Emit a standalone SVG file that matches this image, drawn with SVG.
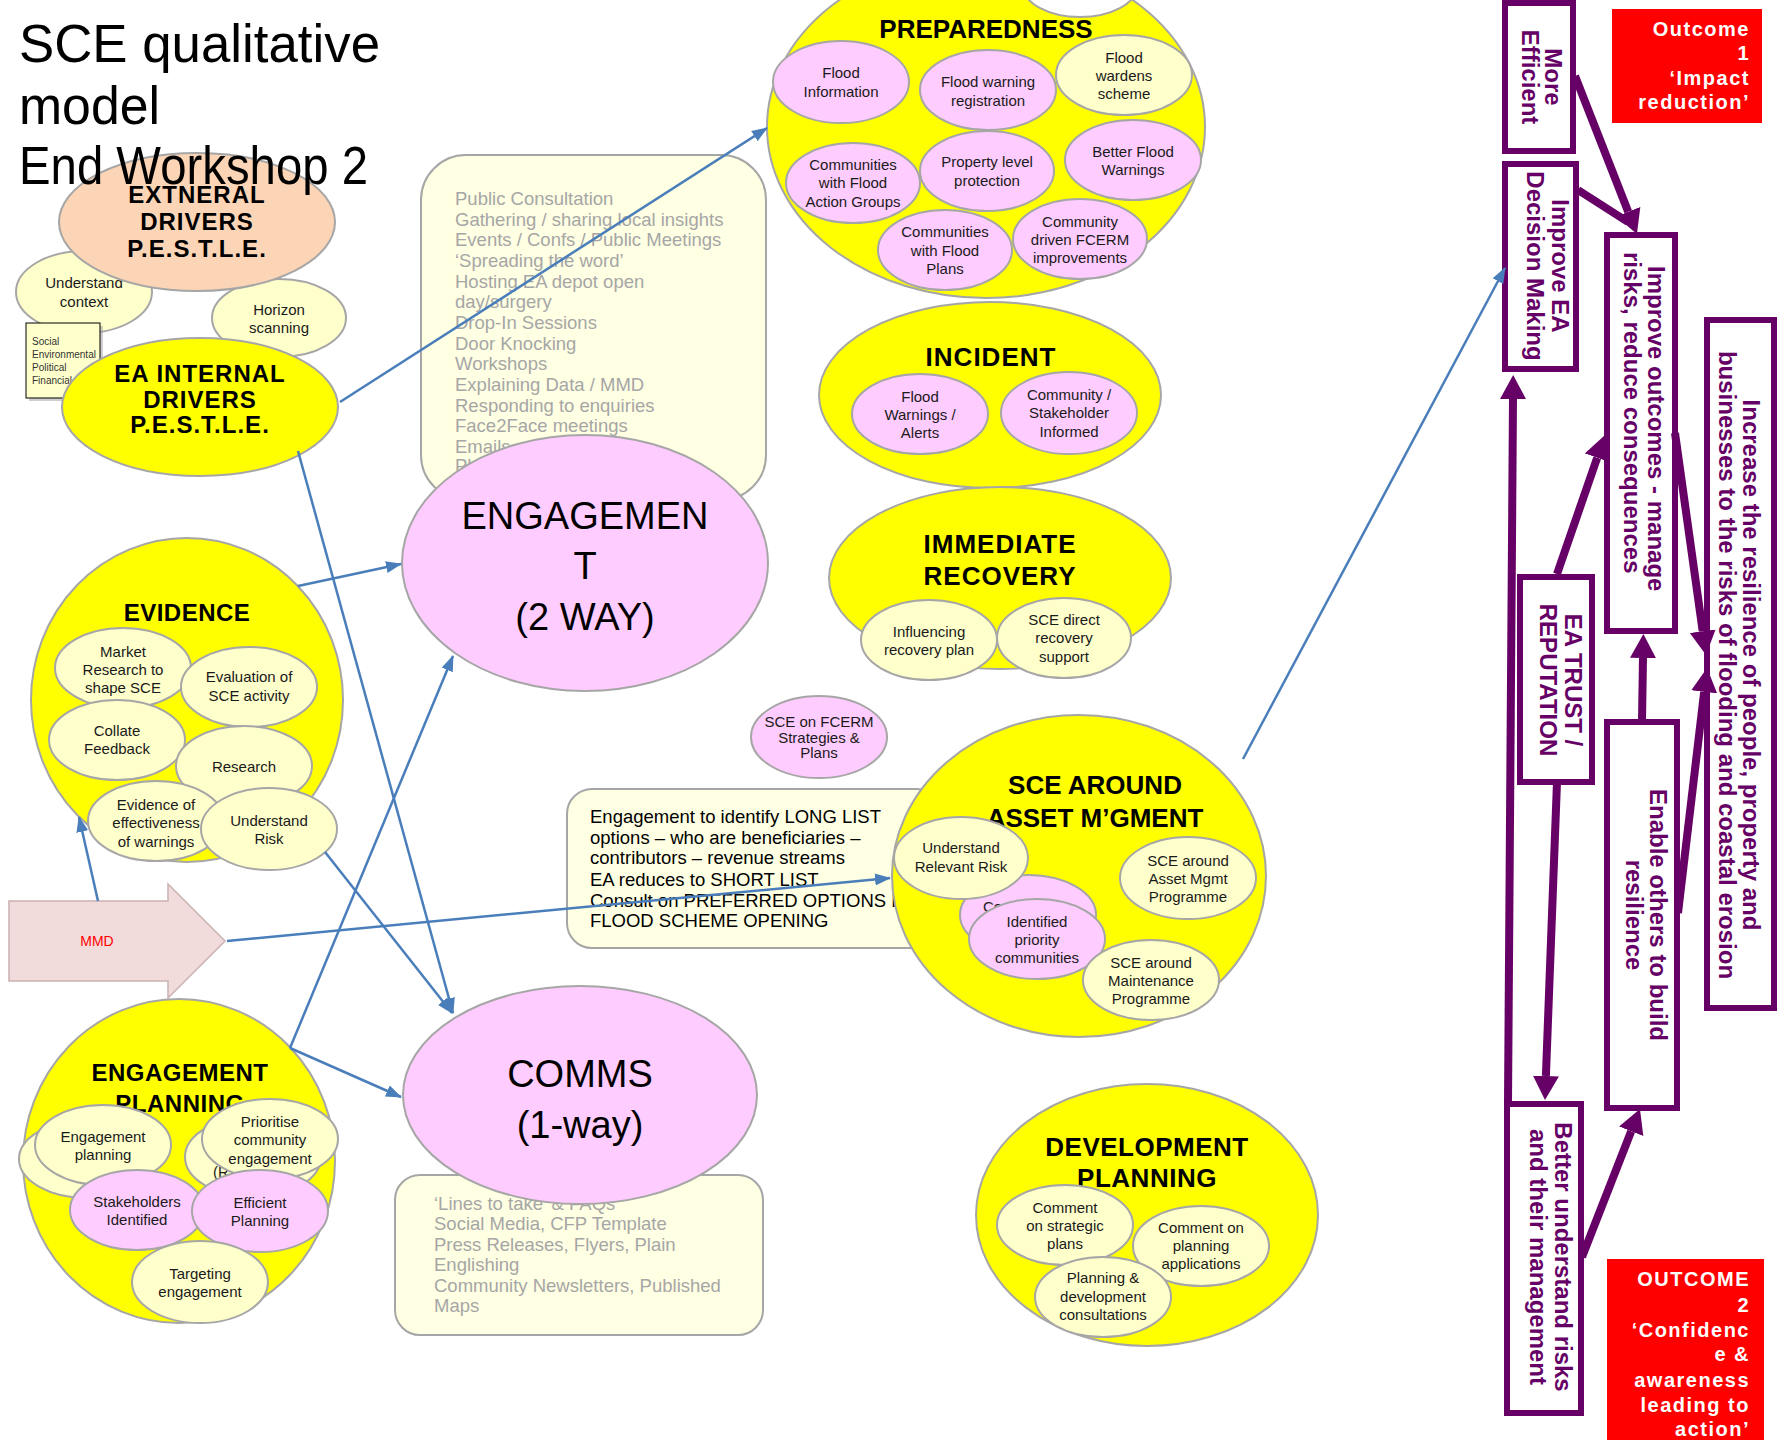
<svg xmlns="http://www.w3.org/2000/svg" width="1777" height="1440" viewBox="0 0 1777 1440">
<style>
.bg{fill:#FFFFFF}
.y{fill:#FFFF00;stroke:#A6A6A6;stroke-width:2}
.pk{fill:#FFCCFF;stroke:#A6A6A6;stroke-width:2}
.ly{fill:#FFFFCC;stroke:#A6A6A6;stroke-width:2}
.wh{fill:#FFFFFF;stroke:#A6A6A6;stroke-width:2}
.box{fill:#FFFFE3;stroke:#A6A6A6;stroke-width:2}
.t{font-family:"Liberation Sans",Arial,sans-serif;font-size:15px;fill:#1a1a1a;text-anchor:middle}
.hd{font-family:"Liberation Sans",Arial,sans-serif;font-weight:bold;fill:#000;text-anchor:middle}
.gt{font-family:"Liberation Sans",Arial,sans-serif;font-size:18.5px;fill:#A6A6A6}
.big{font-family:"Liberation Sans",Arial,sans-serif;font-size:38px;fill:#000;text-anchor:middle}
.conn{stroke:#4A7EBB;stroke-width:2.5;fill:none;marker-end:url(#ab)}
.pa{stroke:#660066;stroke-width:8;fill:none;marker-end:url(#ap)}
.pl{stroke:#660066;stroke-width:8;fill:none}
.pb{fill:#FFFFFF;stroke:#660066;stroke-width:6}
.pt{font-family:"Liberation Sans",Arial,sans-serif;font-weight:bold;font-size:24px;fill:#660066;text-anchor:middle}
.red{fill:#FF0000}
.ot{font-family:"Liberation Sans",Arial,sans-serif;font-weight:bold;font-size:20px;fill:#FFFFFF;text-anchor:end;letter-spacing:1.5px}
</style>
<defs>
<marker id="ab" markerUnits="userSpaceOnUse" markerWidth="18" markerHeight="14" refX="15" refY="6" orient="auto">
<path d="M0,0 L16,6 L0,12 z" fill="#4A7EBB"/>
</marker>
<marker id="ap" markerUnits="userSpaceOnUse" markerWidth="26" markerHeight="28" refX="0" refY="13" orient="auto">
<path d="M0,0 L24,13 L0,26 z" fill="#660066"/>
</marker>
</defs>
<rect class="bg" x="0" y="0" width="1777" height="1440"/>

<!-- External / internal drivers -->
<g id="understand-context">
<ellipse class="ly" cx="84" cy="292" rx="68" ry="41"/>
<text class="t"><tspan x="84" y="288">Understand</tspan><tspan x="84" y="307">context</tspan></text>
</g>
<g id="pestle-box">
<rect x="29" y="326" width="74" height="75" fill="#A0A0A0" opacity="0.5"/>
<rect x="26" y="323" width="74" height="75" fill="#FFFFCC" stroke="#000" stroke-width="1"/>
<text font-family="'Liberation Sans',Arial,sans-serif" font-size="10" fill="#333"><tspan x="32" y="345">Social</tspan><tspan x="32" y="358">Environmental</tspan><tspan x="32" y="371">Political</tspan><tspan x="32" y="384">Financial</tspan></text>
</g>
<g id="horizon-scanning">
<ellipse class="ly" cx="279" cy="318" rx="67" ry="39"/>
<text class="t"><tspan x="279" y="315">Horizon</tspan><tspan x="279" y="333">scanning</tspan></text>
</g>
<g id="external-drivers">
<ellipse cx="197" cy="222" rx="138" ry="69" fill="#FBD5B5" stroke="#A6A6A6" stroke-width="2"/>
<text class="hd" font-size="24" letter-spacing="1"><tspan x="197" y="203">EXTNERAL</tspan><tspan x="197" y="230">DRIVERS</tspan><tspan x="197" y="257">P.E.S.T.L.E.</tspan></text>
</g>
<g id="ea-internal-drivers">
<ellipse class="y" cx="200" cy="407" rx="138" ry="69"/>
<text class="hd" font-size="24" letter-spacing="1"><tspan x="200" y="382">EA INTERNAL</tspan><tspan x="200" y="408">DRIVERS</tspan><tspan x="200" y="433">P.E.S.T.L.E.</tspan></text>
</g>
<g id="title" font-family="'Liberation Sans',Arial,sans-serif" font-size="53" fill="#000">
<text x="19" y="62" textLength="361" lengthAdjust="spacingAndGlyphs">SCE qualitative</text>
<text x="19" y="124" textLength="141" lengthAdjust="spacingAndGlyphs">model</text>
<text x="19" y="184" textLength="349" lengthAdjust="spacingAndGlyphs">End Workshop 2</text>
</g>

<!-- Engagement -->
<g id="engagement-list">
<rect class="box" x="421" y="155" width="345" height="345" rx="45"/>
<text class="gt"><tspan x="455" y="205">Public Consultation</tspan><tspan x="455" y="226">Gathering / sharing local insights</tspan><tspan x="455" y="246">Events / Confs / Public Meetings</tspan><tspan x="455" y="267">‘Spreading the word’</tspan><tspan x="455" y="288">Hosting EA depot open</tspan><tspan x="455" y="308">day/surgery</tspan><tspan x="455" y="329">Drop-In Sessions</tspan><tspan x="455" y="350">Door Knocking</tspan><tspan x="455" y="370">Workshops</tspan><tspan x="455" y="391">Explaining Data / MMD</tspan><tspan x="455" y="412">Responding to enquiries</tspan><tspan x="455" y="432">Face2Face meetings</tspan><tspan x="455" y="453">Emails</tspan><tspan x="455" y="472">Ph</tspan></text>
</g>
<g id="engagement">
<ellipse class="pk" cx="585" cy="563" rx="183" ry="128"/>
<text class="big"><tspan x="585" y="529">ENGAGEMEN</tspan><tspan x="585" y="579">T</tspan><tspan x="585" y="630">(2 WAY)</tspan></text>
</g>
<g id="comms-list">
<rect class="box" x="395" y="1175" width="368" height="160" rx="25"/>
<text class="gt"><tspan x="434" y="1210">‘Lines to take’ &amp; FAQs</tspan><tspan x="434" y="1230">Social Media,  CFP Template</tspan><tspan x="434" y="1251">Press Releases, Flyers, Plain</tspan><tspan x="434" y="1271">Englishing</tspan><tspan x="434" y="1292">Community Newsletters, Published</tspan><tspan x="434" y="1312">Maps</tspan></text>
</g>
<g id="comms">
<ellipse class="pk" cx="580" cy="1095" rx="177" ry="109"/>
<text class="big"><tspan x="580" y="1087">COMMS</tspan><tspan x="580" y="1138">(1-way)</tspan></text>
</g>

<!-- Preparedness -->
<g id="preparedness">
<ellipse class="y" cx="986" cy="127" rx="219" ry="171"/>
<ellipse class="wh" cx="1080" cy="-14" rx="57" ry="31"/>
<text class="hd" font-size="26" x="986" y="38">PREPAREDNESS</text>
<ellipse class="pk" cx="841" cy="82" rx="68" ry="41"/>
<text class="t"><tspan x="841" y="78">Flood</tspan><tspan x="841" y="97">Information</tspan></text>
<ellipse class="pk" cx="988" cy="90" rx="68" ry="40"/>
<text class="t"><tspan x="988" y="87">Flood warning</tspan><tspan x="988" y="106">registration</tspan></text>
<ellipse class="ly" cx="1124" cy="75" rx="68" ry="40"/>
<text class="t"><tspan x="1124" y="63">Flood</tspan><tspan x="1124" y="81">wardens</tspan><tspan x="1124" y="99">scheme</tspan></text>
<ellipse class="pk" cx="853" cy="183" rx="67" ry="40"/>
<text class="t"><tspan x="853" y="170">Communities</tspan><tspan x="853" y="188">with Flood</tspan><tspan x="853" y="207">Action Groups</tspan></text>
<ellipse class="pk" cx="987" cy="171" rx="67" ry="40"/>
<text class="t"><tspan x="987" y="167">Property level</tspan><tspan x="987" y="186">protection</tspan></text>
<ellipse class="pk" cx="1133" cy="160" rx="68" ry="40"/>
<text class="t"><tspan x="1133" y="157">Better Flood</tspan><tspan x="1133" y="175">Warnings</tspan></text>
<ellipse class="pk" cx="945" cy="250" rx="67" ry="40"/>
<text class="t"><tspan x="945" y="237">Communities</tspan><tspan x="945" y="256">with Flood</tspan><tspan x="945" y="274">Plans</tspan></text>
<ellipse class="pk" cx="1080" cy="239" rx="67" ry="40"/>
<text class="t"><tspan x="1080" y="227">Community</tspan><tspan x="1080" y="245">driven FCERM</tspan><tspan x="1080" y="263">improvements</tspan></text>
</g>

<!-- Incident -->
<g id="incident">
<ellipse class="y" cx="990" cy="395" rx="171" ry="93"/>
<text class="hd" font-size="26" letter-spacing="1" x="991" y="366">INCIDENT</text>
<ellipse class="pk" cx="920" cy="414" rx="68" ry="40"/>
<text class="t"><tspan x="920" y="402">Flood</tspan><tspan x="920" y="420">Warnings /</tspan><tspan x="920" y="438">Alerts</tspan></text>
<ellipse class="pk" cx="1069" cy="413" rx="68" ry="41"/>
<text class="t"><tspan x="1069" y="400">Community /</tspan><tspan x="1069" y="418">Stakeholder</tspan><tspan x="1069" y="437">Informed</tspan></text>
</g>

<!-- Immediate recovery -->
<g id="immediate-recovery">
<ellipse class="y" cx="1000" cy="578" rx="171" ry="91"/>
<text class="hd" font-size="26" letter-spacing="1"><tspan x="1000" y="553">IMMEDIATE</tspan><tspan x="1000" y="585">RECOVERY</tspan></text>
<ellipse class="ly" cx="929" cy="640" rx="68" ry="40"/>
<text class="t"><tspan x="929" y="637">Influencing</tspan><tspan x="929" y="655">recovery plan</tspan></text>
<ellipse class="ly" cx="1064" cy="638" rx="67" ry="40"/>
<text class="t"><tspan x="1064" y="625">SCE direct</tspan><tspan x="1064" y="643">recovery</tspan><tspan x="1064" y="662">support</tspan></text>
</g>

<g id="sce-fcerm-strategies">
<ellipse class="pk" cx="819" cy="737" rx="68" ry="41"/>
<text class="t" font-size="12"><tspan x="819" y="727">SCE on FCERM</tspan><tspan x="819" y="743">Strategies &amp;</tspan><tspan x="819" y="758">Plans</tspan></text>
</g>

<g id="long-list">
<rect class="box" x="567" y="789" width="375" height="159" rx="25"/>
<text font-family="'Liberation Sans',Arial,sans-serif" font-size="18.5" fill="#000"><tspan x="590" y="823">Engagement to identify LONG LIST</tspan><tspan x="590" y="844">options – who are beneficiaries –</tspan><tspan x="590" y="864">contributors – revenue streams</tspan><tspan x="590" y="886">EA reduces to SHORT LIST</tspan><tspan x="590" y="907">Consult on PREFERRED OPTIONS LIST</tspan><tspan x="590" y="927">FLOOD SCHEME OPENING</tspan></text>
</g>

<!-- SCE around asset management -->
<g id="sce-asset-mgmt">
<ellipse class="y" cx="1079" cy="876" rx="187" ry="161"/>
<text class="hd" font-size="26"><tspan x="1095" y="794">SCE AROUND</tspan><tspan x="1095" y="827">ASSET M’GMENT</tspan></text>
<ellipse class="pk" cx="1028" cy="915" rx="68" ry="40"/>
<text class="t" x="983" y="912" style="text-anchor:start">Co</text>
<ellipse class="ly" cx="961" cy="858" rx="67" ry="41"/>
<text class="t"><tspan x="961" y="853">Understand</tspan><tspan x="961" y="872">Relevant Risk</tspan></text>
<ellipse class="pk" cx="1037" cy="939" rx="68" ry="40"/>
<text class="t"><tspan x="1037" y="927">Identified</tspan><tspan x="1037" y="945">priority</tspan><tspan x="1037" y="963">communities</tspan></text>
<ellipse class="ly" cx="1188" cy="878" rx="68" ry="41"/>
<text class="t"><tspan x="1188" y="866">SCE around</tspan><tspan x="1188" y="884">Asset Mgmt</tspan><tspan x="1188" y="902">Programme</tspan></text>
<ellipse class="ly" cx="1151" cy="980" rx="68" ry="40"/>
<text class="t"><tspan x="1151" y="968">SCE around</tspan><tspan x="1151" y="986">Maintenance</tspan><tspan x="1151" y="1004">Programme</tspan></text>
</g>

<!-- Development planning -->
<g id="development-planning">
<ellipse class="y" cx="1147" cy="1215" rx="171" ry="131"/>
<text class="hd" font-size="26" letter-spacing="0.5"><tspan x="1147" y="1156">DEVELOPMENT</tspan><tspan x="1147" y="1187">PLANNING</tspan></text>
<ellipse class="ly" cx="1065" cy="1225" rx="68" ry="40"/>
<text class="t"><tspan x="1065" y="1213">Comment</tspan><tspan x="1065" y="1231">on strategic</tspan><tspan x="1065" y="1249">plans</tspan></text>
<ellipse class="ly" cx="1201" cy="1246" rx="68" ry="40"/>
<text class="t"><tspan x="1201" y="1233">Comment on</tspan><tspan x="1201" y="1251">planning</tspan><tspan x="1201" y="1269">applications</tspan></text>
<ellipse class="ly" cx="1103" cy="1297" rx="68" ry="40"/>
<text class="t"><tspan x="1103" y="1283">Planning &amp;</tspan><tspan x="1103" y="1302">development</tspan><tspan x="1103" y="1320">consultations</tspan></text>
</g>

<!-- Evidence -->
<g id="evidence">
<ellipse class="y" cx="187" cy="700" rx="156" ry="162"/>
<text class="hd" font-size="24" letter-spacing="0.5" x="187" y="621">EVIDENCE</text>
<ellipse class="ly" cx="123" cy="668" rx="68" ry="40"/>
<text class="t"><tspan x="123" y="657">Market</tspan><tspan x="123" y="675">Research to</tspan><tspan x="123" y="693">shape SCE</tspan></text>
<ellipse class="ly" cx="249" cy="687" rx="68" ry="40"/>
<text class="t"><tspan x="249" y="682">Evaluation of</tspan><tspan x="249" y="701">SCE activity</tspan></text>
<ellipse class="ly" cx="117" cy="740" rx="68" ry="40"/>
<text class="t"><tspan x="117" y="736">Collate</tspan><tspan x="117" y="754">Feedback</tspan></text>
<ellipse class="ly" cx="244" cy="766" rx="68" ry="40"/>
<text class="t" x="244" y="772">Research</text>
<ellipse class="ly" cx="156" cy="821" rx="68" ry="40"/>
<text class="t"><tspan x="156" y="810">Evidence of</tspan><tspan x="156" y="828">effectiveness</tspan><tspan x="156" y="847">of warnings</tspan></text>
<ellipse class="ly" cx="269" cy="829" rx="68" ry="41"/>
<text class="t"><tspan x="269" y="826">Understand</tspan><tspan x="269" y="844">Risk</tspan></text>
</g>

<!-- Engagement planning -->
<g id="engagement-planning">
<ellipse class="y" cx="179" cy="1161" rx="156" ry="162"/>
<text class="hd" font-size="24" letter-spacing="0.5"><tspan x="180" y="1081">ENGAGEMENT</tspan><tspan x="180" y="1112">PLANNING</tspan></text>
<ellipse class="ly" cx="87" cy="1159" rx="68" ry="39"/>
<ellipse class="ly" cx="103" cy="1145" rx="68" ry="40"/>
<text class="t"><tspan x="103" y="1142">Engagement</tspan><tspan x="103" y="1160">planning</tspan></text>
<ellipse class="ly" cx="253" cy="1157" rx="68" ry="40"/>
<text class="t" x="213" y="1177" style="text-anchor:start">(R</text>
<ellipse class="ly" cx="270" cy="1139" rx="68" ry="40"/>
<text class="t"><tspan x="270" y="1127">Prioritise</tspan><tspan x="270" y="1145">community</tspan><tspan x="270" y="1164">engagement</tspan></text>
<ellipse class="pk" cx="137" cy="1210" rx="67" ry="40"/>
<text class="t"><tspan x="137" y="1207">Stakeholders</tspan><tspan x="137" y="1225">Identified</tspan></text>
<ellipse class="pk" cx="260" cy="1211" rx="68" ry="41"/>
<text class="t"><tspan x="260" y="1208">Efficient</tspan><tspan x="260" y="1226">Planning</tspan></text>
<ellipse class="ly" cx="200" cy="1282" rx="68" ry="41"/>
<text class="t"><tspan x="200" y="1279">Targeting</tspan><tspan x="200" y="1297">engagement</tspan></text>
</g>

<g id="mmd">
<polygon points="9,901 168,901 168,884 225,941 168,998 168,981 9,981" fill="#F2DCDB" stroke="#C9B1B1" stroke-width="1.5"/>
<text font-family="'Liberation Sans',Arial,sans-serif" font-size="14" fill="#FF0000" text-anchor="middle" x="97" y="946">MMD</text>
</g>

<!-- Right panel -->
<g id="more-efficient">
<rect class="pb" x="1505" y="3" width="68" height="148"/>
<text class="pt" transform="translate(1545,77) rotate(90)" x="0" y="0">More</text>
<text class="pt" transform="translate(1522,77) rotate(90)" x="0" y="0">Efficient</text>
</g>
<g id="outcome-1">
<rect class="red" x="1612" y="9" width="150" height="114"/>
<text class="ot"><tspan x="1750" y="36">Outcome</tspan><tspan x="1750" y="60">1</tspan><tspan x="1750" y="85">‘Impact</tspan><tspan x="1750" y="109">reduction’</tspan></text>
</g>
<g id="improve-ea-decision">
<rect class="pb" x="1505" y="164" width="71" height="205"/>
<text class="pt" transform="translate(1552,266) rotate(90)" x="0" y="0">Improve EA</text>
<text class="pt" transform="translate(1527,266) rotate(90)" x="0" y="0">Decision Making</text>
</g>
<g id="improve-outcomes">
<rect class="pb" x="1607" y="235" width="68" height="396"/>
<text class="pt" transform="translate(1648,266) rotate(90)" x="0" y="0" style="text-anchor:start">Improve outcomes - manage</text>
<text class="pt" transform="translate(1624,252) rotate(90)" x="0" y="0" style="text-anchor:start">risks, reduce consequences</text>
</g>
<g id="increase-resilience">
<rect class="pb" x="1707" y="320" width="67" height="688"/>
<text class="pt" transform="translate(1743,665) rotate(90)" x="0" y="0">Increase the resilience of people, property and</text>
<text class="pt" transform="translate(1719,665) rotate(90)" x="0" y="0">businesses to the risks of flooding and coastal erosion</text>
</g>
<g id="ea-trust">
<rect class="pb" x="1520" y="577" width="72" height="205"/>
<text class="pt" transform="translate(1565,680) rotate(90)" x="0" y="0">EA TRUST /</text>
<text class="pt" transform="translate(1540,680) rotate(90)" x="0" y="0">REPUTATION</text>
</g>
<g id="enable-others">
<rect class="pb" x="1607" y="722" width="70" height="386"/>
<text class="pt" transform="translate(1650,915) rotate(90)" x="0" y="0">Enable others to build</text>
<text class="pt" transform="translate(1626,915) rotate(90)" x="0" y="0">resilience</text>
</g>
<g id="better-understand">
<rect class="pb" x="1507" y="1104" width="74" height="309"/>
<text class="pt" transform="translate(1555,1257) rotate(90)" x="0" y="0">Better understand risks</text>
<text class="pt" transform="translate(1530,1257) rotate(90)" x="0" y="0">and their management</text>
</g>
<g id="outcome-2">
<rect class="red" x="1607" y="1259" width="157" height="190"/>
<text class="ot"><tspan x="1750" y="1286">OUTCOME</tspan><tspan x="1750" y="1312">2</tspan><tspan x="1750" y="1337">‘Confidenc</tspan><tspan x="1750" y="1361">e &amp;</tspan><tspan x="1750" y="1387">awareness</tspan><tspan x="1750" y="1412">leading to</tspan><tspan x="1750" y="1436">action’</tspan></text>
</g>

<!-- Connectors -->
<g id="connectors">
<line class="conn" x1="340" y1="402" x2="767" y2="128"/>
<line class="conn" x1="298" y1="451" x2="453" y2="1013"/>
<line class="conn" x1="298" y1="586" x2="401" y2="564"/>
<line class="conn" x1="325" y1="852" x2="452" y2="1013"/>
<line class="conn" x1="98" y1="901" x2="79" y2="817"/>
<line class="conn" x1="227" y1="941" x2="890" y2="878"/>
<line class="conn" x1="290" y1="1048" x2="453" y2="656"/>
<line class="conn" x1="290" y1="1048" x2="401" y2="1097"/>
<line class="conn" x1="1243" y1="759" x2="1505" y2="268"/>
<line class="pa" x1="1575" y1="76" x2="1628.2" y2="211.7"/>
<line class="pl" x1="1578" y1="190" x2="1628" y2="222"/>
<line class="pa" x1="1557" y1="574" x2="1597.2" y2="457.7"/>
<line class="pa" x1="1675" y1="433" x2="1702.7" y2="631.2"/>
<line class="pa" x1="1678" y1="913" x2="1704.2" y2="691.8"/>
<line class="pa" x1="1642" y1="720" x2="1643" y2="658"/>
<line class="pa" x1="1557" y1="782" x2="1545.9" y2="1076"/>
<line class="pa" x1="1582" y1="1257" x2="1631.2" y2="1131.3"/>
<line class="pa" x1="1508" y1="1103" x2="1513" y2="399"/>
</g>
</svg>
